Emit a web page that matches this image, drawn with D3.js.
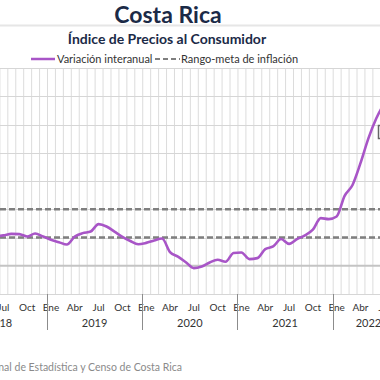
<!DOCTYPE html>
<html>
<head>
<meta charset="utf-8">
<script src="https://cdn.jsdelivr.net/npm/d3@7"></script>
<style>
  body { margin: 0; background: #fff; }
  svg { display: block; }
</style>
</head>
<body>
<svg id="chart" width="380" height="380"></svg>
<script>
// data
const monthNames = ['Ene', 'Feb', 'Mar', 'Abr', 'May', 'Jun', 'Jul', 'Ago', 'Sep', 'Oct', 'Nov', 'Dic'];
const years = [2018, 2019, 2020, 2021, 2022];
const axisEnd = '2022-09'; // last month on the axis
const seriesStart = '2018-06';
const inflation = [
  2.10, 2.15, 2.26, 2.24, 2.07, 2.28, 2.07,                         // 2018 jun-dic
  1.84, 1.67, 1.50, 2.07, 2.31, 2.42, 2.95, 2.78, 2.42, 2.05, 1.75, 1.52, // 2019
  1.62, 1.79, 1.93, 0.97, 0.65, 0.25, -0.17, -0.05, 0.23, 0.42, 0.28, 0.90, // 2020
  0.94, 0.47, 0.54, 1.18, 1.37, 1.89, 1.55, 1.89, 2.15, 2.55, 3.37, 3.30, // 2021
  3.49, 4.95, 5.72, 7.26, 9.02, 10.44, 11.50                         // 2022 ene-jul
];
const targetRange = [2, 4];
const yTicks = [-2, 0, 2, 4, 6, 8, 10, 12, 14];

const svg = d3.select('#chart');
const W = 380;
const plotTop = 68, plotBottom = 294;
const step = 7.936;

// month keys for the whole x domain
const months = [];
years.forEach((yr) => monthNames.forEach((m, i) => months.push(`${yr}-${String(i + 1).padStart(2, '0')}`)));
const axisMonths = months.slice(0, months.indexOf(axisEnd) + 1);

const x0 = 47 - 12 * step;
const x = d3.scaleBand().domain(axisMonths).range([x0, x0 + axisMonths.length * step]).padding(0);
const y = d3.scaleLinear().domain([-2, 14]).range([plotBottom, plotTop]);

const startIdx = months.indexOf(seriesStart);
const points = inflation.map((v, i) => ({ key: months[startIdx + i], v }));

// title
svg.append('text')
  .attr('x', 168).attr('y', 23)
  .attr('text-anchor', 'middle')
  .style('font', 'bold 23px Lato')
  .style('fill', '#1b2a47')
  .text('Costa Rica');

svg.append('line')
  .attr('x1', 0).attr('x2', W).attr('y1', 25.5).attr('y2', 25.5)
  .style('stroke', '#e6e6e6').style('stroke-width', 2);

svg.append('text')
  .attr('x', 167).attr('y', 44)
  .attr('text-anchor', 'middle')
  .style('font', 'bold 14px Lato')
  .style('fill', '#1b2a47')
  .text('Índice de Precios al Consumidor');

// legend
const legend = svg.append('g').style('font', '11px Lato').style('fill', '#333');
legend.append('line').attr('x1', 31).attr('x2', 55).attr('y1', 59).attr('y2', 59)
  .style('stroke', '#a855c7').style('stroke-width', 2.5);
legend.append('text').attr('x', 57).attr('y', 63).text('Variación interanual');
legend.append('line').attr('x1', 155).attr('x2', 180).attr('y1', 59).attr('y2', 59)
  .style('stroke', '#7f7f7f').style('stroke-width', 2).style('stroke-dasharray', '5,3');
legend.append('text').attr('x', 181).attr('y', 63).text('Rango-meta de inflación');

// vertical month grid
svg.append('g').selectAll('line')
  .data(axisMonths)
  .join('line')
  .attr('x1', (d) => x(d) + 0.5).attr('x2', (d) => x(d) + 0.5)
  .attr('y1', plotTop).attr('y2', plotBottom)
  .style('stroke', '#dcdcdc').style('stroke-width', 1);

// horizontal grid
svg.append('g').selectAll('line')
  .data(yTicks.filter((t) => t !== 0))
  .join('line')
  .attr('x1', 0).attr('x2', W)
  .attr('y1', (d) => Math.round(y(d)) + 0.5).attr('y2', (d) => Math.round(y(d)) + 0.5)
  .style('stroke', '#d6d6d6').style('stroke-width', 1);

svg.append('line')
  .attr('x1', 0).attr('x2', W).attr('y1', y(0)).attr('y2', y(0))
  .style('stroke', '#c4c4c4').style('stroke-width', 2);

// target range
svg.append('g').selectAll('line')
  .data(targetRange)
  .join('line')
  .attr('x1', 0).attr('x2', W)
  .attr('y1', (d) => y(d)).attr('y2', (d) => y(d))
  .style('stroke', '#7f7f7f').style('stroke-width', 2.5).style('stroke-dasharray', '6,3');

// series
const line = d3.line()
  .x((d) => x(d.key) + x.bandwidth() / 2)
  .y((d) => y(d.v))
  .curve(d3.curveMonotoneX);

svg.append('path')
  .datum(points)
  .attr('d', line)
  .style('fill', 'none')
  .style('stroke', '#a855c7')
  .style('stroke-width', 2.6)
  .style('stroke-linejoin', 'round');

// label box cut at the edge
svg.append('rect')
  .attr('x', 378.5).attr('y', 125.5).attr('width', 8).attr('height', 13)
  .style('fill', '#fff').style('stroke', '#666').style('stroke-width', 1.5);

// x axis: months
svg.append('g').selectAll('text')
  .data(axisMonths.filter((m) => (+m.slice(5) - 1) % 3 === 0))
  .join('text')
  .attr('x', (d) => x(d) + x.bandwidth() / 2)
  .attr('y', 311)
  .attr('text-anchor', 'middle')
  .style('font', '10px Lato')
  .style('fill', '#333')
  .text((d) => monthNames[+d.slice(5) - 1]);

// year separators and labels, centred on the months each year has on the axis
svg.append('g').selectAll('line')
  .data(years)
  .join('line')
  .attr('x1', (d) => Math.round(x(`${d}-01`)) + 0.5)
  .attr('x2', (d) => Math.round(x(`${d}-01`)) + 0.5)
  .attr('y1', plotBottom).attr('y2', 330)
  .style('stroke', '#8c8c8c').style('stroke-width', 1);

svg.append('g').selectAll('text')
  .data(years)
  .join('text')
  .attr('x', (d) => {
    const ms = axisMonths.filter((m) => m.startsWith(`${d}-`));
    return (x(ms[0]) + x(ms[ms.length - 1]) + step) / 2;
  })
  .attr('y', 327)
  .attr('text-anchor', 'middle')
  .style('font', '11px Lato')
  .style('fill', '#333')
  .text((d) => d);

// source
svg.append('text')
  .attr('x', 182).attr('y', 371)
  .attr('text-anchor', 'end')
  .style('font', '10.5px Lato')
  .style('fill', '#8a8a8a')
  .text('Fuente: Instituto Nacional de Estadística y Censo de Costa Rica');
</script>
</body>
</html>
